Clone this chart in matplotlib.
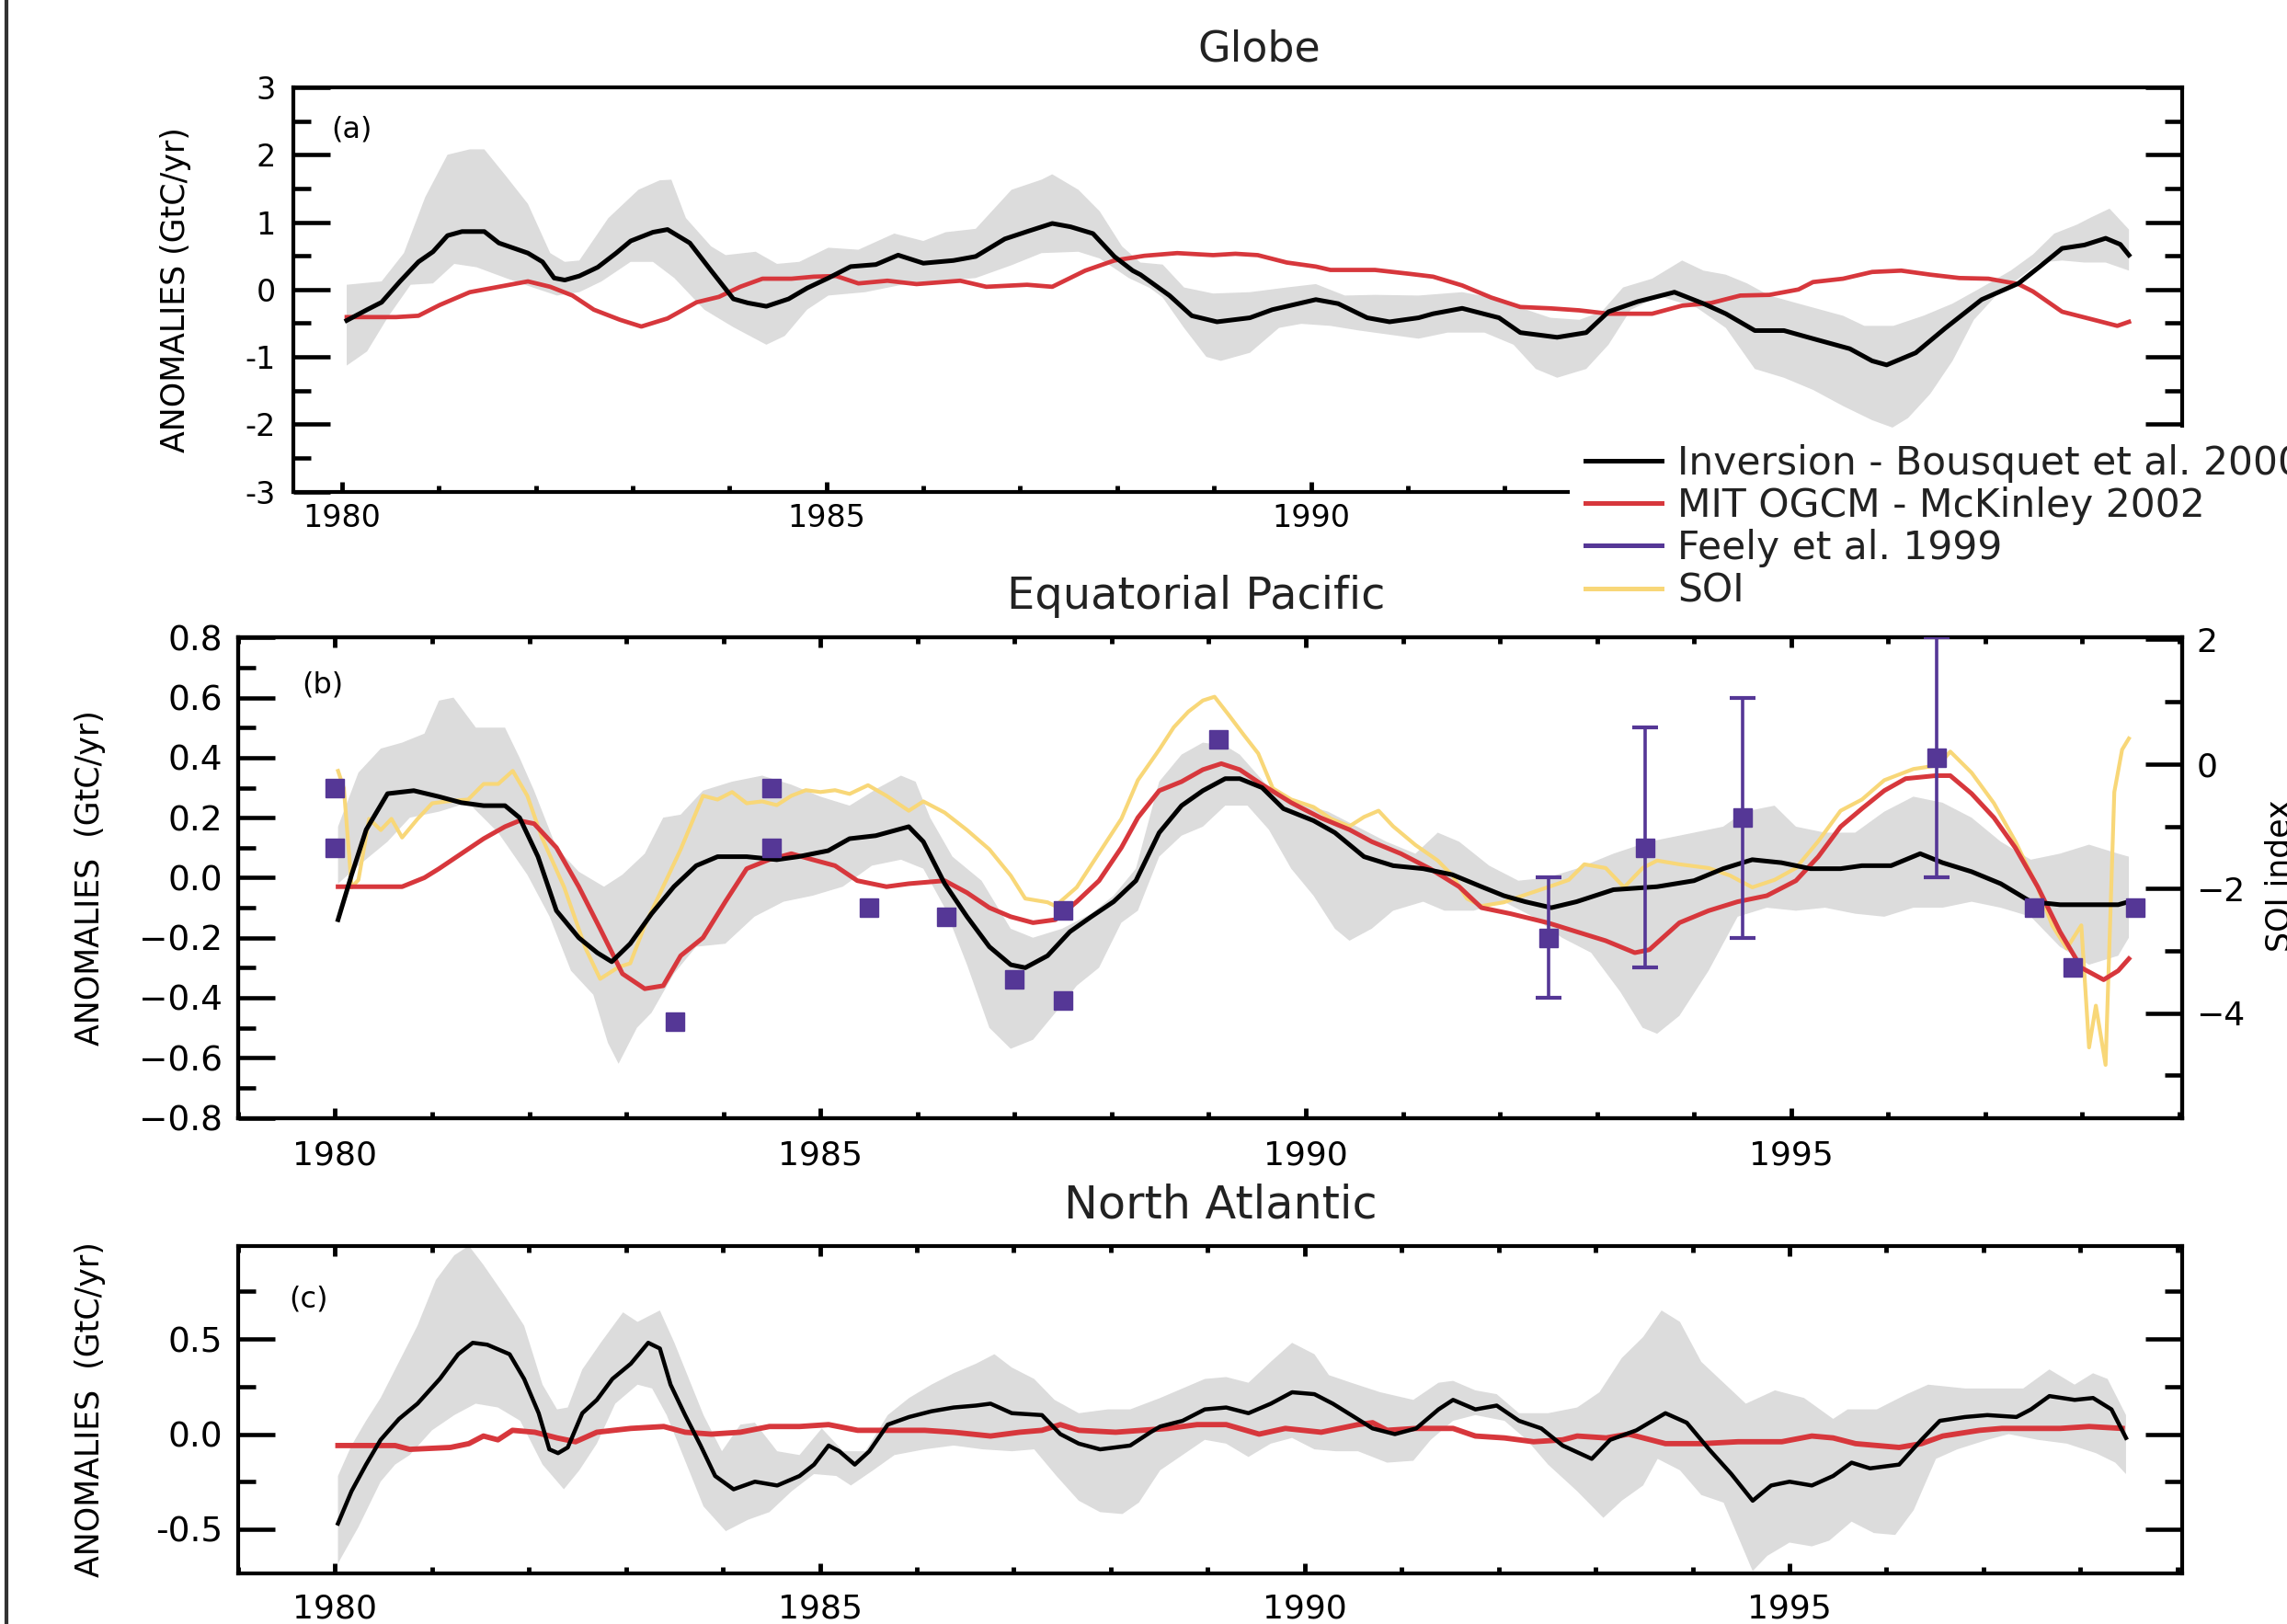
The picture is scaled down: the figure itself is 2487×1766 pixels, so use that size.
import matplotlib
matplotlib.use("Agg")
import matplotlib.pyplot as plt
from matplotlib.lines import Line2D
from matplotlib.ticker import MultipleLocator
import numpy as np

# ---------------- data ----------------
# (a) Globe
GLOBE_INV_YR = [1980.05, 1980.26, 1980.41, 1980.6, 1980.79, 1980.94, 1981.09, 1981.24, 1981.47, 1981.62,
                1981.92, 1982.07, 1982.19, 1982.3, 1982.45, 1982.64, 1982.83, 1982.98, 1983.21, 1983.36,
                1983.59, 1983.81, 1984.04, 1984.19, 1984.38, 1984.61, 1984.8, 1985.02, 1985.25, 1985.51,
                1985.74, 1986.0, 1986.31, 1986.54, 1986.84, 1987.07, 1987.33, 1987.52, 1987.75, 1987.97,
                1988.16, 1988.24, 1988.54, 1988.77, 1989.03, 1989.37, 1989.6, 1990.05, 1990.28, 1990.58,
                1990.81, 1991.11, 1991.26, 1991.56, 1991.94, 1992.16, 1992.54, 1992.84, 1993.07, 1993.37,
                1993.75, 1994.05, 1994.28, 1994.58, 1994.88, 1995.18, 1995.56, 1995.79, 1995.94, 1996.24,
                1996.54, 1996.92, 1997.3, 1997.52, 1997.75, 1997.98, 1998.2, 1998.35, 1998.44]
GLOBE_INV = [-0.46, -0.30, -0.19, 0.12, 0.41, 0.56, 0.80, 0.86, 0.86, 0.69,
             0.54, 0.41, 0.17, 0.14, 0.20, 0.33, 0.54, 0.72, 0.85, 0.89,
             0.69, 0.28, -0.14, -0.20, -0.25, -0.14, 0.02, 0.17, 0.34, 0.37,
             0.51, 0.39, 0.43, 0.49, 0.75, 0.86, 0.98, 0.93, 0.83, 0.49,
             0.28, 0.22, -0.09, -0.39, -0.48, -0.42, -0.30, -0.15, -0.21, -0.42,
             -0.48, -0.42, -0.36, -0.28, -0.42, -0.64, -0.71, -0.64, -0.33, -0.18,
             -0.04, -0.21, -0.36, -0.61, -0.61, -0.73, -0.88, -1.06, -1.12, -0.94,
             -0.58, -0.15, 0.09, 0.34, 0.61, 0.66, 0.76, 0.67, 0.51]

GLOBE_MIT_YR = [1980.05, 1980.56, 1980.79, 1981.01, 1981.32, 1981.62, 1981.92, 1982.15, 1982.38, 1982.6,
                1982.87, 1983.09, 1983.36, 1983.66, 1983.89, 1984.11, 1984.34, 1984.64, 1984.87, 1985.1,
                1985.33, 1985.63, 1985.93, 1986.38, 1986.65, 1987.07, 1987.33, 1987.67, 1987.97, 1988.28,
                1988.62, 1988.99, 1989.22, 1989.45, 1989.75, 1990.05, 1990.2, 1990.66, 1991.03, 1991.26,
                1991.56, 1991.86, 1992.16, 1992.47, 1992.77, 1993.07, 1993.52, 1993.83, 1994.13, 1994.43,
                1994.73, 1995.03, 1995.18, 1995.49, 1995.79, 1996.09, 1996.39, 1996.69, 1996.99, 1997.3,
                1997.45, 1997.75, 1998.05, 1998.32, 1998.44]
GLOBE_MIT = [-0.41, -0.41, -0.39, -0.23, -0.04, 0.04, 0.12, 0.04, -0.09, -0.30,
             -0.45, -0.55, -0.43, -0.19, -0.11, 0.04, 0.16, 0.16, 0.19, 0.20,
             0.09, 0.13, 0.08, 0.13, 0.04, 0.07, 0.04, 0.28, 0.43, 0.50,
             0.54, 0.51, 0.53, 0.51, 0.40, 0.34, 0.29, 0.29, 0.23, 0.19,
             0.06, -0.12, -0.26, -0.28, -0.31, -0.36, -0.36, -0.24, -0.20, -0.09,
             -0.08, 0.00, 0.11, 0.16, 0.26, 0.28, 0.22, 0.17, 0.16, 0.08,
             -0.03, -0.33, -0.44, -0.54, -0.48]

GLOBE_HI_YR = [1980.05, 1980.41, 1980.64, 1980.86, 1981.09, 1981.32, 1981.47, 1981.69, 1981.92, 1982.15,
               1982.3, 1982.45, 1982.75, 1983.06, 1983.28, 1983.4, 1983.55, 1983.81, 1983.96, 1984.27,
               1984.49, 1984.72, 1985.02, 1985.33, 1985.7, 1986.0, 1986.23, 1986.54, 1986.91, 1987.22,
               1987.33, 1987.6, 1987.82, 1988.05, 1988.24, 1988.47, 1988.69, 1988.99, 1989.37, 1989.75,
               1990.05, 1990.35, 1990.66, 1991.11, 1991.56, 1991.86, 1992.16, 1992.47, 1992.77, 1993.0,
               1993.22, 1993.52, 1993.83, 1994.05, 1994.28, 1994.5, 1994.73, 1995.03, 1995.49, 1995.71,
               1996.01, 1996.32, 1996.62, 1996.92, 1997.22, 1997.45, 1997.67, 1997.9, 1998.05, 1998.24,
               1998.44]
GLOBE_HI = [0.07, 0.12, 0.54, 1.37, 2.00, 2.08, 2.08, 1.69, 1.27, 0.54,
            0.41, 0.43, 1.06, 1.48, 1.62, 1.63, 1.06, 0.64, 0.51, 0.56,
            0.38, 0.41, 0.62, 0.59, 0.83, 0.72, 0.85, 0.90, 1.48, 1.63,
            1.71, 1.48, 1.16, 0.64, 0.40, 0.37, 0.03, -0.06, -0.04, 0.03,
            0.08, -0.09, -0.08, -0.09, -0.04, -0.12, -0.27, -0.42, -0.45, -0.33,
            0.03, 0.16, 0.43, 0.28, 0.22, 0.09, -0.09, -0.21, -0.39, -0.54,
            -0.54, -0.39, -0.21, 0.03, 0.28, 0.52, 0.83, 0.96, 1.07, 1.20,
            0.89]

GLOBE_LO_YR = [1980.05, 1980.26, 1980.48, 1980.71, 1980.94, 1981.16, 1981.39, 1981.69, 1981.99, 1982.22,
               1982.45, 1982.68, 1982.98, 1983.21, 1983.43, 1983.74, 1984.04, 1984.38, 1984.57, 1984.8,
               1985.02, 1985.4, 1985.78, 1986.16, 1986.54, 1986.91, 1987.22, 1987.6, 1987.82, 1988.12,
               1988.34, 1988.47, 1988.69, 1988.92, 1989.07, 1989.37, 1989.67, 1989.9, 1990.2, 1990.5,
               1991.11, 1991.41, 1991.79, 1992.09, 1992.32, 1992.54, 1992.84, 1993.07, 1993.3, 1993.6,
               1993.98, 1994.28, 1994.58, 1994.88, 1995.18, 1995.49, 1995.79, 1996.0, 1996.16, 1996.39,
               1996.62, 1996.84, 1997.07, 1997.3, 1997.52, 1997.75, 1997.98, 1998.2, 1998.44]
GLOBE_LO = [-1.13, -0.92, -0.40, 0.07, 0.09, 0.38, 0.33, 0.17, 0.02, -0.09,
            -0.04, 0.12, 0.41, 0.41, 0.17, -0.30, -0.56, -0.82, -0.69, -0.30,
            -0.09, -0.04, 0.07, 0.12, 0.17, 0.36, 0.54, 0.56, 0.46, 0.17,
            0.02, -0.12, -0.57, -1.00, -1.06, -0.94, -0.57, -0.51, -0.54, -0.61,
            -0.73, -0.64, -0.64, -0.82, -1.18, -1.31, -1.18, -0.82, -0.30, -0.10,
            -0.27, -0.57, -1.18, -1.31, -1.49, -1.73, -1.94, -2.05, -1.91, -1.55,
            -1.06, -0.45, -0.09, 0.16, 0.40, 0.43, 0.40, 0.40, 0.28]

# (b) Equatorial Pacific
EQP_INV_YR = [1980.03, 1980.17, 1980.32, 1980.54, 1980.81, 1981.07, 1981.3, 1981.53, 1981.75, 1981.9,
              1982.09, 1982.28, 1982.51, 1982.7, 1982.85, 1983.04, 1983.26, 1983.49, 1983.72, 1983.94,
              1984.24, 1984.55, 1984.77, 1985.08, 1985.3, 1985.57, 1985.91, 1986.06, 1986.28, 1986.51,
              1986.74, 1986.96, 1987.11, 1987.34, 1987.57, 1987.79, 1988.02, 1988.25, 1988.49, 1988.72,
              1988.94, 1989.17, 1989.32, 1989.55, 1989.77, 1990.08, 1990.3, 1990.6, 1990.9, 1991.21,
              1991.51, 1991.81, 1992.04, 1992.26, 1992.53, 1992.79, 1993.17, 1993.62, 1994.0, 1994.3,
              1994.6, 1994.9, 1995.2, 1995.51, 1995.73, 1996.03, 1996.33, 1996.56, 1996.86, 1997.16,
              1997.47, 1997.77, 1998.07, 1998.37, 1998.48]
EQP_INV = [-0.14, 0.01, 0.16, 0.28, 0.29, 0.27, 0.25, 0.24, 0.24, 0.20,
           0.07, -0.11, -0.20, -0.25, -0.28, -0.22, -0.12, -0.03, 0.04, 0.07,
           0.07, 0.06, 0.07, 0.09, 0.13, 0.14, 0.17, 0.12, -0.02, -0.13,
           -0.23, -0.29, -0.30, -0.26, -0.18, -0.13, -0.08, -0.01, 0.15, 0.24,
           0.29, 0.33, 0.33, 0.30, 0.23, 0.19, 0.15, 0.07, 0.04, 0.03,
           0.01, -0.03, -0.06, -0.08, -0.10, -0.08, -0.04, -0.03, -0.01, 0.03,
           0.06, 0.05, 0.03, 0.03, 0.04, 0.04, 0.08, 0.05, 0.02, -0.02,
           -0.08, -0.09, -0.09, -0.09, -0.08]

EQP_MIT_YR = [1980.03, 1980.32, 1980.69, 1980.92, 1981.07, 1981.3, 1981.53, 1981.75, 1981.9, 1982.05,
              1982.28, 1982.51, 1982.73, 1982.96, 1983.19, 1983.38, 1983.56, 1983.79, 1984.02, 1984.24,
              1984.47, 1984.7, 1984.92, 1985.15, 1985.38, 1985.68, 1985.91, 1986.28, 1986.51, 1986.74,
              1986.96, 1987.19, 1987.42, 1987.64, 1987.87, 1988.1, 1988.27, 1988.49, 1988.72, 1988.94,
              1989.13, 1989.32, 1989.55, 1989.85, 1990.15, 1990.45, 1990.68, 1990.98, 1991.28, 1991.58,
              1991.81, 1992.11, 1992.49, 1992.79, 1993.09, 1993.39, 1993.54, 1993.85, 1994.15, 1994.45,
              1994.75, 1995.05, 1995.28, 1995.51, 1995.73, 1995.96, 1996.18, 1996.49, 1996.64, 1996.86,
              1997.09, 1997.31, 1997.54, 1997.77, 1997.99, 1998.22, 1998.37, 1998.48]
EQP_MIT = [-0.03, -0.03, -0.03, 0.00, 0.03, 0.08, 0.13, 0.17, 0.19, 0.18,
           0.10, -0.03, -0.17, -0.32, -0.37, -0.36, -0.26, -0.20, -0.08, 0.03,
           0.06, 0.08, 0.06, 0.04, -0.01, -0.03, -0.02, -0.01, -0.05, -0.10,
           -0.13, -0.15, -0.14, -0.08, -0.01, 0.10, 0.20, 0.29, 0.32, 0.36,
           0.38, 0.36, 0.31, 0.25, 0.20, 0.16, 0.12, 0.08, 0.03, -0.03,
           -0.10, -0.12, -0.15, -0.18, -0.21, -0.25, -0.24, -0.15, -0.11, -0.08,
           -0.06, -0.01, 0.07, 0.17, 0.23, 0.29, 0.33, 0.34, 0.34, 0.28,
           0.20, 0.10, -0.03, -0.18, -0.30, -0.34, -0.31, -0.27]

EQP_HI_YR = [1980.03, 1980.24, 1980.47, 1980.69, 1980.92, 1981.07, 1981.22, 1981.45, 1981.75, 1981.9,
             1982.05, 1982.28, 1982.51, 1982.77, 1982.96, 1983.19, 1983.38, 1983.56, 1983.79, 1984.09,
             1984.4, 1984.7, 1985.0, 1985.3, 1985.6, 1985.83, 1985.98, 1986.13, 1986.36, 1986.66,
             1986.96, 1987.19, 1987.49, 1987.79, 1988.02, 1988.25, 1988.49, 1988.72, 1988.94, 1989.17,
             1989.32, 1989.62, 1989.92, 1990.23, 1990.53, 1990.83, 1991.13, 1991.36, 1991.58, 1991.89,
             1992.19, 1992.49, 1992.79, 1993.17, 1993.54, 1994.0, 1994.3, 1994.52, 1994.83, 1995.05,
             1995.35, 1995.66, 1995.96, 1996.26, 1996.56, 1996.86, 1997.16, 1997.47, 1997.77, 1998.07,
             1998.37, 1998.48]
EQP_HI = [0.17, 0.35, 0.43, 0.45, 0.48, 0.59, 0.60, 0.50, 0.50, 0.40,
          0.29, 0.10, 0.02, -0.03, 0.01, 0.08, 0.20, 0.21, 0.29, 0.32,
          0.34, 0.31, 0.27, 0.24, 0.30, 0.34, 0.32, 0.20, 0.07, -0.01,
          -0.17, -0.20, -0.17, -0.12, -0.06, 0.03, 0.32, 0.41, 0.45, 0.44,
          0.41, 0.30, 0.25, 0.22, 0.17, 0.12, 0.08, 0.15, 0.12, 0.04,
          -0.01, 0.00, 0.03, 0.08, 0.12, 0.15, 0.17, 0.22, 0.24, 0.17,
          0.15, 0.15, 0.22, 0.27, 0.25, 0.20, 0.12, 0.06, 0.08, 0.11,
          0.08, 0.07]

EQP_LO_YR = [1980.03, 1980.24, 1980.54, 1980.77, 1981.07, 1981.37, 1981.68, 1981.98, 1982.21, 1982.43,
             1982.66, 1982.81, 1982.92, 1983.11, 1983.26, 1983.49, 1983.72, 1984.02, 1984.32, 1984.62,
             1984.92, 1985.23, 1985.53, 1985.83, 1986.06, 1986.28, 1986.51, 1986.74, 1986.96, 1987.19,
             1987.42, 1987.64, 1987.87, 1988.1, 1988.27, 1988.49, 1988.72, 1988.94, 1989.17, 1989.4,
             1989.62, 1989.85, 1990.08, 1990.3, 1990.45, 1990.68, 1990.9, 1991.21, 1991.43, 1991.73,
             1992.04, 1992.34, 1992.64, 1992.94, 1993.24, 1993.47, 1993.62, 1993.85, 1994.15, 1994.45,
             1994.75, 1995.05, 1995.35, 1995.66, 1995.96, 1996.26, 1996.56, 1996.86, 1997.16, 1997.47,
             1997.77, 1998.07, 1998.37, 1998.48]
EQP_LO = [-0.02, 0.04, 0.12, 0.20, 0.22, 0.25, 0.15, 0.01, -0.13, -0.31,
          -0.39, -0.55, -0.62, -0.50, -0.45, -0.32, -0.23, -0.22, -0.13, -0.08,
          -0.06, -0.03, 0.04, 0.06, 0.03, -0.10, -0.29, -0.50, -0.57, -0.54,
          -0.45, -0.36, -0.30, -0.15, -0.11, 0.07, 0.14, 0.17, 0.24, 0.24,
          0.16, 0.03, -0.06, -0.17, -0.21, -0.17, -0.11, -0.08, -0.11, -0.11,
          -0.08, -0.13, -0.20, -0.25, -0.38, -0.50, -0.52, -0.46, -0.31, -0.13,
          -0.10, -0.11, -0.10, -0.12, -0.13, -0.10, -0.10, -0.08, -0.10, -0.13,
          -0.23, -0.29, -0.26, -0.20]

SOI_YR = [1980.03, 1980.09, 1980.17, 1980.24, 1980.35, 1980.47, 1980.58, 1980.69, 1980.85, 1981.0,
          1981.15, 1981.37, 1981.53, 1981.68, 1981.83, 1981.98, 1982.13, 1982.36, 1982.58, 1982.73,
          1982.92, 1983.04, 1983.19, 1983.34, 1983.56, 1983.79, 1983.94, 1984.09, 1984.24, 1984.4,
          1984.55, 1984.7, 1984.85, 1985.0, 1985.15, 1985.3, 1985.49, 1985.68, 1985.91, 1986.06,
          1986.28, 1986.51, 1986.74, 1986.96, 1987.11, 1987.34, 1987.42, 1987.64, 1987.87, 1988.1,
          1988.27, 1988.49, 1988.64, 1988.79, 1988.94, 1989.06, 1989.21, 1989.36, 1989.51, 1989.66,
          1989.85, 1990.08, 1990.26, 1990.45, 1990.6, 1990.75, 1990.9, 1991.13, 1991.36, 1991.51,
          1991.66, 1991.81, 1992.04, 1992.26, 1992.49, 1992.71, 1992.87, 1993.09, 1993.28, 1993.47,
          1993.62, 1993.85, 1994.15, 1994.37, 1994.6, 1994.83, 1995.05, 1995.28, 1995.51, 1995.73,
          1995.96, 1996.26, 1996.52, 1996.64, 1996.86, 1997.09, 1997.31, 1997.54, 1997.69, 1997.84,
          1997.99, 1998.07, 1998.14, 1998.24, 1998.33, 1998.41, 1998.48]
SOI = [-0.11, -0.39, -1.98, -1.86, -0.88, -1.06, -0.88, -1.18, -0.88, -0.63,
       -0.60, -0.57, -0.32, -0.32, -0.11, -0.51, -1.18, -1.98, -2.96, -3.45,
       -3.26, -3.20, -2.59, -2.10, -1.37, -0.51, -0.57, -0.45, -0.63, -0.60,
       -0.66, -0.51, -0.42, -0.45, -0.42, -0.48, -0.34, -0.51, -0.75, -0.60,
       -0.78, -1.06, -1.37, -1.79, -2.16, -2.22, -2.28, -1.98, -1.43, -0.88,
       -0.26, 0.23, 0.59, 0.84, 1.02, 1.08, 0.78, 0.47, 0.17, -0.39,
       -0.57, -0.69, -0.88, -1.00, -0.85, -0.75, -1.00, -1.30, -1.55, -1.79,
       -2.16, -2.28, -2.22, -2.10, -1.98, -1.86, -1.61, -1.67, -1.98, -1.67,
       -1.55, -1.61, -1.67, -1.79, -1.98, -1.86, -1.67, -1.24, -0.75, -0.57,
       -0.26, -0.08, -0.02, 0.20, -0.14, -0.63, -1.24, -1.98, -2.59, -2.96,
       -2.59, -4.55, -3.88, -4.83, -0.45, 0.23, 0.41]

FEELY_YR = [1980.0, 1980.0, 1983.5, 1984.5, 1984.5, 1985.5, 1986.3, 1987.0, 1987.5, 1987.5,
            1989.1, 1992.5, 1993.5, 1994.5, 1996.5, 1997.5, 1997.9, 1998.55]
FEELY = [0.30, 0.10, -0.48, 0.30, 0.10, -0.10, -0.13, -0.34, -0.11, -0.41,
         0.46, -0.20, 0.10, 0.20, 0.40, -0.10, -0.30, -0.10]
FEELY_ERR_YR = [1992.5, 1993.5, 1994.5, 1996.5]
FEELY_ERR_VAL = [-0.20, 0.10, 0.20, 0.40]
FEELY_ERR = [0.20, 0.40, 0.40, 0.40]

# (c) North Atlantic
NATL_INV_YR = [1980.03, 1980.17, 1980.32, 1980.47, 1980.66, 1980.85, 1981.08, 1981.27, 1981.42, 1981.57,
               1981.8, 1981.95, 1982.1, 1982.21, 1982.3, 1982.4, 1982.55, 1982.7, 1982.86, 1983.05,
               1983.23, 1983.35, 1983.46, 1983.61, 1983.77, 1983.92, 1984.11, 1984.33, 1984.56, 1984.79,
               1984.94, 1985.09, 1985.2, 1985.36, 1985.51, 1985.7, 1985.92, 1986.15, 1986.38, 1986.61,
               1986.76, 1986.98, 1987.29, 1987.48, 1987.67, 1987.89, 1988.2, 1988.41, 1988.51, 1988.74,
               1988.97, 1989.19, 1989.42, 1989.65, 1989.87, 1990.1, 1990.29, 1990.48, 1990.7, 1990.93,
               1991.15, 1991.38, 1991.53, 1991.76, 1991.98, 1992.21, 1992.44, 1992.66, 1992.96, 1993.15,
               1993.42, 1993.72, 1993.94, 1994.17, 1994.4, 1994.62, 1994.81, 1995.0, 1995.23, 1995.45,
               1995.64, 1995.83, 1996.13, 1996.36, 1996.55, 1996.81, 1997.04, 1997.34, 1997.49, 1997.68,
               1997.94, 1998.13, 1998.32, 1998.47]
NATL_INV = [-0.47, -0.30, -0.16, -0.03, 0.08, 0.16, 0.29, 0.42, 0.48, 0.47,
            0.42, 0.29, 0.11, -0.08, -0.10, -0.07, 0.11, 0.18, 0.29, 0.37,
            0.48, 0.45, 0.26, 0.10, -0.06, -0.22, -0.29, -0.25, -0.27, -0.22,
            -0.16, -0.06, -0.09, -0.16, -0.09, 0.05, 0.09, 0.12, 0.14, 0.15,
            0.16, 0.11, 0.10, 0.00, -0.05, -0.08, -0.06, 0.01, 0.04, 0.07,
            0.13, 0.14, 0.11, 0.16, 0.22, 0.21, 0.16, 0.10, 0.03, 0.00,
            0.03, 0.13, 0.18, 0.13, 0.15, 0.07, 0.03, -0.06, -0.13, -0.03,
            0.02, 0.11, 0.06, -0.08, -0.21, -0.35, -0.27, -0.25, -0.27, -0.22,
            -0.15, -0.18, -0.16, -0.03, 0.07, 0.09, 0.10, 0.09, 0.13, 0.20,
            0.18, 0.19, 0.13, -0.02]

NATL_MIT_YR = [1980.03, 1980.62, 1980.77, 1981.19, 1981.38, 1981.53, 1981.68, 1981.83, 1982.06, 1982.29,
               1982.48, 1982.7, 1983.05, 1983.39, 1983.61, 1983.88, 1984.18, 1984.48, 1984.79, 1985.09,
               1985.39, 1985.77, 1986.08, 1986.38, 1986.76, 1987.06, 1987.29, 1987.48, 1987.67, 1988.05,
               1988.59, 1988.89, 1989.19, 1989.53, 1989.8, 1990.17, 1990.55, 1990.7, 1990.85, 1991.15,
               1991.53, 1991.76, 1992.06, 1992.36, 1992.66, 1992.81, 1993.11, 1993.34, 1993.72, 1994.1,
               1994.47, 1994.92, 1995.23, 1995.45, 1995.68, 1996.13, 1996.36, 1996.58, 1996.96, 1997.19,
               1997.49, 1997.79, 1998.09, 1998.43]
NATL_MIT = [-0.06, -0.06, -0.08, -0.07, -0.05, -0.01, -0.03, 0.02, 0.01, -0.02,
            -0.04, 0.01, 0.03, 0.04, 0.01, 0.00, 0.01, 0.04, 0.04, 0.05,
            0.02, 0.02, 0.02, 0.01, -0.01, 0.01, 0.02, 0.05, 0.02, 0.01,
            0.03, 0.05, 0.05, 0.00, 0.03, 0.01, 0.05, 0.06, 0.02, 0.03,
            0.03, -0.01, -0.02, -0.04, -0.03, -0.01, -0.02, 0.00, -0.05, -0.05,
            -0.04, -0.04, -0.01, -0.02, -0.05, -0.07, -0.05, -0.01, 0.02, 0.03,
            0.03, 0.03, 0.04, 0.03]

NATL_HI_YR = [1980.03, 1980.17, 1980.32, 1980.47, 1980.66, 1980.85, 1981.04, 1981.23, 1981.38, 1981.53,
              1981.76, 1981.95, 1982.14, 1982.29, 1982.4, 1982.55, 1982.74, 1982.97, 1983.12, 1983.35,
              1983.5, 1983.65, 1983.8, 1983.99, 1984.18, 1984.33, 1984.56, 1984.79, 1985.02, 1985.24,
              1985.47, 1985.7, 1985.92, 1986.15, 1986.38, 1986.61, 1986.8, 1986.98, 1987.21, 1987.42,
              1987.67, 1987.97, 1988.2, 1988.51, 1988.74, 1988.97, 1989.19, 1989.42, 1989.65, 1989.87,
              1990.1, 1990.25, 1990.48, 1990.78, 1991.12, 1991.38, 1991.53, 1991.76, 1991.98, 1992.21,
              1992.51, 1992.81, 1993.04, 1993.27, 1993.49, 1993.68, 1993.87, 1994.09, 1994.32, 1994.55,
              1994.85, 1995.15, 1995.45, 1995.6, 1995.9, 1996.21, 1996.43, 1996.81, 1997.11, 1997.41,
              1997.68, 1997.94, 1998.13, 1998.28, 1998.47]
NATL_HI = [-0.22, -0.06, 0.07, 0.19, 0.38, 0.57, 0.81, 0.94, 0.99, 0.89,
           0.72, 0.57, 0.26, 0.13, 0.14, 0.34, 0.48, 0.64, 0.59, 0.65,
           0.48, 0.29, 0.10, -0.09, 0.05, 0.06, -0.09, -0.11, 0.03, -0.09,
           -0.09, 0.10, 0.19, 0.26, 0.32, 0.37, 0.42, 0.35, 0.29, 0.18,
           0.11, 0.13, 0.13, 0.19, 0.24, 0.29, 0.30, 0.27, 0.38, 0.48,
           0.42, 0.31, 0.27, 0.22, 0.18, 0.27, 0.28, 0.23, 0.21, 0.11,
           0.11, 0.14, 0.22, 0.40, 0.51, 0.65, 0.59, 0.38, 0.27, 0.16,
           0.23, 0.19, 0.08, 0.13, 0.13, 0.21, 0.26, 0.24, 0.24, 0.24,
           0.34, 0.26, 0.32, 0.29, 0.10]

NATL_LO_YR = [1980.03, 1980.24, 1980.47, 1980.62, 1980.77, 1981.0, 1981.23, 1981.45, 1981.68, 1981.91,
              1982.14, 1982.36, 1982.52, 1982.7, 1982.89, 1983.12, 1983.27, 1983.42, 1983.65, 1983.8,
              1984.03, 1984.26, 1984.48, 1984.71, 1984.94, 1985.17, 1985.32, 1985.55, 1985.77, 1986.08,
              1986.38, 1986.68, 1986.98, 1987.21, 1987.44, 1987.67, 1987.89, 1988.12, 1988.29, 1988.51,
              1988.74, 1988.97, 1989.19, 1989.42, 1989.65, 1989.87, 1990.1, 1990.32, 1990.55, 1990.85,
              1991.12, 1991.3, 1991.53, 1991.76, 1992.06, 1992.29, 1992.51, 1992.81, 1993.08, 1993.27,
              1993.49, 1993.64, 1993.87, 1994.09, 1994.32, 1994.47, 1994.62, 1994.77, 1995.0, 1995.23,
              1995.41, 1995.64, 1995.87, 1996.09, 1996.28, 1996.51, 1996.73, 1997.04, 1997.26, 1997.56,
              1997.86, 1998.16, 1998.36, 1998.47]
NATL_LO = [-0.68, -0.49, -0.25, -0.16, -0.11, 0.02, 0.10, 0.16, 0.14, 0.07,
           -0.16, -0.29, -0.19, -0.05, 0.16, 0.26, 0.24, 0.10, -0.19, -0.38,
           -0.51, -0.45, -0.41, -0.30, -0.21, -0.22, -0.27, -0.19, -0.11, -0.08,
           -0.06, -0.08, -0.09, -0.08, -0.22, -0.35, -0.41, -0.42, -0.36, -0.19,
           -0.11, -0.03, -0.05, -0.12, -0.05, -0.02, -0.08, -0.09, -0.09, -0.15,
           -0.14, -0.03, 0.07, 0.10, 0.07, -0.03, -0.16, -0.30, -0.44, -0.35,
           -0.27, -0.13, -0.19, -0.32, -0.36, -0.54, -0.72, -0.64, -0.57, -0.59,
           -0.56, -0.46, -0.52, -0.53, -0.40, -0.13, -0.08, -0.03, 0.00, -0.03,
           -0.05, -0.10, -0.15, -0.21]

GLOBE_YTICKS = [-3, -2, -1, 0, 1, 2, 3]
GLOBE_YLABELS = ["-3", "-2", "-1", "0", "1", "2", "3"]
EQP_YTICKS = [-0.8, -0.6, -0.4, -0.2, 0.0, 0.2, 0.4, 0.6, 0.8]
EQP_YLABELS = ["\u22120.8", "\u22120.6", "\u22120.4", "\u22120.2", "0.0", "0.2", "0.4", "0.6", "0.8"]
SOI_TICKS = [-4, -2, 0, 2]
SOI_LABELS = ["\u22124", "\u22122", "0", "2"]
NATL_YTICKS = [-0.5, 0.0, 0.5]
NATL_YLABELS = ["-0.5", "0.0", "0.5"]
YEAR_TICKS = [1980, 1985, 1990, 1995]
YEAR_LABELS = ["1980", "1985", "1990", "1995"]
GLOBE_YEAR_LABELS = ["1980", "1985", "1990", ""]   # 1995 sits under the legend

# ---------------- style ----------------
BLACK = "black"
RED = "#d7373c"
GREY = "#dcdcdc"
PURPLE = "#553796"
YELLOW = "#f8d778"

plt.rcParams["font.family"] = ["DejaVu Sans"]
plt.rcParams["axes.linewidth"] = 3.0

fig = plt.figure(figsize=(24.87, 17.66), dpi=100)


def band(ax, x_hi, hi, x_lo, lo):
    xs = np.concatenate([x_hi, x_lo[::-1]])
    ys = np.concatenate([hi, lo[::-1]])
    ax.fill(xs, ys, color=GREY, lw=0, zorder=1)


def style_ticks(ax, top, right, xsize, ysize, xpad, ypad):
    ax.xaxis.set_minor_locator(MultipleLocator(1))
    ax.tick_params(axis="x", which="major", direction="in", length=8, width=3.5,
                   top=top, bottom=True, labelsize=xsize, pad=xpad)
    ax.tick_params(axis="x", which="minor", direction="in", length=5, width=3.5,
                   top=top, bottom=True)
    ax.tick_params(axis="y", which="major", direction="in", length=29, width=3.3,
                   left=True, right=right, labelsize=ysize, pad=ypad)
    ax.tick_params(axis="y", which="minor", direction="in", length=14, width=3.3,
                   left=True, right=right)


# ---------------- (a) Globe ----------------
ax_a = fig.add_axes([0.1283, 0.6973, 0.8259, 0.2489])
band(ax_a, GLOBE_HI_YR, GLOBE_HI, GLOBE_LO_YR, GLOBE_LO)
ax_a.plot(GLOBE_MIT_YR, GLOBE_MIT, color=RED, lw=3.4, zorder=3)
ax_a.plot(GLOBE_INV_YR, GLOBE_INV, color=BLACK, lw=3.6, zorder=4)
ax_a.set_xlim(1979.5, 1998.99)
ax_a.set_ylim(-3, 3)
ax_a.set_xticks(YEAR_TICKS, labels=GLOBE_YEAR_LABELS)
ax_a.set_yticks(GLOBE_YTICKS, labels=GLOBE_YLABELS)
ax_a.yaxis.set_minor_locator(MultipleLocator(0.5))
style_ticks(ax_a, top=False, right=True, xsize=24, ysize=24, xpad=9, ypad=14)
ax_a.set_ylabel("ANOMALIES (GtC/yr)", fontsize=25)
ax_a.yaxis.set_label_coords(-0.054, 0.5)
ax_a.text(0.02, 0.93, "(a)", transform=ax_a.transAxes, fontsize=23, va="top")

# ---------------- (b) Equatorial Pacific ----------------
ax_b = fig.add_axes([0.1041, 0.3117, 0.8501, 0.2957])
band(ax_b, EQP_HI_YR, EQP_HI, EQP_LO_YR, EQP_LO)
ax_s = ax_b.twinx()
ax_s.plot(SOI_YR, SOI, color=YELLOW, lw=3.0, zorder=2)
ax_s.set_ylim(-5.68, 2.03)
ax_s.set_yticks(SOI_TICKS, labels=SOI_LABELS)
ax_s.yaxis.set_minor_locator(MultipleLocator(1))
ax_s.tick_params(axis="y", which="major", direction="in", length=29, width=3.3,
                 labelsize=26, pad=11)
ax_s.tick_params(axis="y", which="minor", direction="in", length=14, width=3.3)
ax_s.set_zorder(ax_b.get_zorder() + 1)
ax_s.patch.set_visible(False)

# remaining panel (b) series drawn over the SOI line on a transparent overlay axes
ax_b2 = fig.add_axes(ax_b.get_position(), sharex=ax_b, sharey=ax_b)
ax_b2.set_zorder(ax_s.get_zorder() + 1)
ax_b2.patch.set_visible(False)
ax_b2.plot(EQP_MIT_YR, EQP_MIT, color=RED, lw=3.6, zorder=3)
ax_b2.plot(EQP_INV_YR, EQP_INV, color=BLACK, lw=3.6, zorder=4)
ax_b2.errorbar(FEELY_ERR_YR, FEELY_ERR_VAL, yerr=FEELY_ERR, fmt="none", ecolor=PURPLE,
               elinewidth=2.6, capsize=10, capthick=3, zorder=5)
ax_b2.plot(FEELY_YR, FEELY, "s", color=PURPLE, ms=15, mec=PURPLE, zorder=6)
ax_b2.axis("off")

ax_b.set_xlim(1979.0, 1999.03)
ax_b.set_ylim(-0.8, 0.8)
ax_b.set_xticks(YEAR_TICKS, labels=YEAR_LABELS)
ax_b.set_yticks(EQP_YTICKS, labels=EQP_YLABELS)
ax_b.yaxis.set_minor_locator(MultipleLocator(0.1))
style_ticks(ax_b, top=True, right=False, xsize=26, ysize=27, xpad=17, ypad=12)
ax_b.set_ylabel("ANOMALIES  (GtC/yr)", fontsize=25)
ax_b.yaxis.set_label_coords(-0.068, 0.5)
ax_b.text(0.033, 0.93, "(b)", transform=ax_b.transAxes, fontsize=23, va="top")

# ---------------- (c) North Atlantic ----------------
ax_c = fig.add_axes([0.1041, 0.0314, 0.8501, 0.2015])
band(ax_c, NATL_HI_YR, NATL_HI, NATL_LO_YR, NATL_LO)
ax_c.plot(NATL_MIT_YR, NATL_MIT, color=RED, lw=4.2, zorder=3)
ax_c.plot(NATL_INV_YR, NATL_INV, color=BLACK, lw=3.2, zorder=4)
ax_c.set_xlim(1979.0, 1999.05)
ax_c.set_ylim(-0.73, 0.99)
ax_c.set_xticks(YEAR_TICKS, labels=YEAR_LABELS)
ax_c.set_yticks(NATL_YTICKS, labels=NATL_YLABELS)
ax_c.yaxis.set_minor_locator(MultipleLocator(0.25))
style_ticks(ax_c, top=True, right=True, xsize=26, ysize=27, xpad=16, ypad=12)
ax_c.set_ylabel("ANOMALIES  (GtC/yr)", fontsize=25)
ax_c.yaxis.set_label_coords(-0.068, 0.5)
ax_c.text(0.026, 0.88, "(c)", transform=ax_c.transAxes, fontsize=23, va="top")

# ---------------- titles, legend, frame ----------------
fig.text(863 / 1568, 1 - 34 / 1113, "Globe", fontsize=33, ha="center", va="center", color="#222222")
fig.text(820 / 1568, 1 - 409 / 1113, "Equatorial Pacific", fontsize=34.5, ha="center", va="center",
         color="#222222")
fig.text(837 / 1568, 1 - 826 / 1113, "North Atlantic", fontsize=35.5, ha="center", va="center",
         color="#222222")
fig.text(1563 / 1568, 1 - 600 / 1113, "SOI index", fontsize=25, rotation=90, ha="center", va="center")

handles = [Line2D([], [], color=BLACK, lw=3.6), Line2D([], [], color=RED, lw=3.6),
           Line2D([], [], color=PURPLE, lw=3.6), Line2D([], [], color=YELLOW, lw=3.6)]
labels = ["Inversion - Bousquet et al. 2000", "MIT OGCM - McKinley 2002", "Feely et al. 1999", "SOI"]
leg = fig.legend(handles, labels, loc="upper left", bbox_to_anchor=(1076 / 1568, 1 - 293 / 1113),
                 fontsize=30.5, frameon=True, fancybox=False, facecolor="white", edgecolor="none",
                 framealpha=1.0, handlelength=1.95, handletextpad=0.4, labelspacing=0.1,
                 borderpad=0.42, borderaxespad=0)
for t in leg.get_texts():
    t.set_color("#222222")

fig.add_artist(Line2D([0.003, 0.003], [0, 1], transform=fig.transFigure, color="#333333", lw=3))

fig.savefig("out.png", dpi=100)
